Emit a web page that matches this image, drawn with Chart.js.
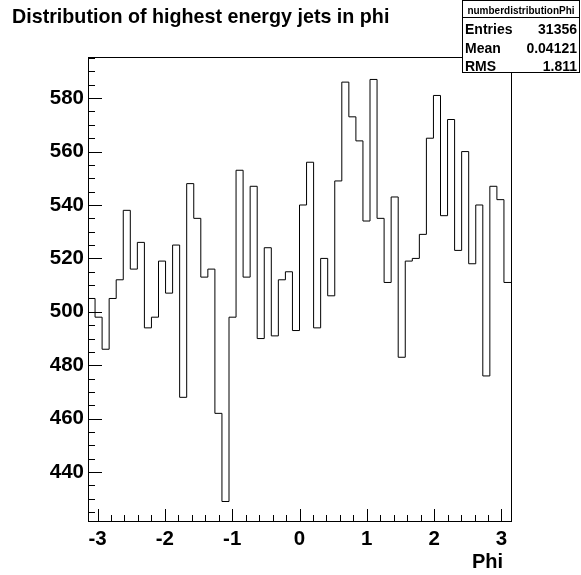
<!DOCTYPE html>
<html>
<head>
<meta charset="utf-8">
<title>Distribution of highest energy jets in phi</title>
<script src="https://cdn.jsdelivr.net/npm/chart.js@4/dist/chart.umd.min.js"></script>
<style>
  html, body { margin: 0; padding: 0; background: #ffffff; }
  #wrap { width: 581px; height: 575px; }
</style>
</head>
<body>
<div id="wrap"><canvas id="c" width="581" height="575"></canvas></div>
<script>
// Histogram contents: 60 bins of phi over [-pi, pi]
const binCounts = [
  505, 498, 486, 505, 512, 538, 516, 526, 494, 498,
  519, 507, 525, 468, 548, 535, 513, 516, 462, 429,
  498, 553, 513, 547, 490, 524, 491, 512, 515, 493,
  540, 556, 494, 520, 506, 549, 586, 573, 564, 534,
  587, 535, 511, 543, 483, 519, 520, 529, 565, 581,
  536, 572, 523, 560, 518, 540, 476, 547, 542, 511
];
const phiMin = -Math.PI;
const phiMax = Math.PI;

const xTickValues = [-3, -2, -1, 0, 1, 2, 3];
const yTickValues = [440, 460, 480, 500, 520, 540, 560, 580];

const titleText = 'Distribution of highest energy jets in phi';
const xAxisTitle = 'Phi';
const statName = 'numberdistributionPhi';
const statLabels = ['Entries', 'Mean', 'RMS'];
const statValues = ['31356', '0.04121', '1.811'];

// Step outline: one point at each lower bin edge, plus the upper edge of the last bin
const binWidth = (phiMax - phiMin) / binCounts.length;
const stepPoints = binCounts.map((v, i) => ({ x: phiMin + i * binWidth, y: v }));
stepPoints.push({ x: phiMax, y: binCounts[binCounts.length - 1] });

const FONT = '"Liberation Sans", Arial, Helvetica, sans-serif';

// Inward ticks, frame, title and statistics box
const rootStyle = {
  id: 'rootStyle',
  afterDraw(chart) {
    const ctx = chart.ctx;
    const a = chart.chartArea;
    const xs = chart.scales.x;
    const ys = chart.scales.y;
    ctx.save();
    ctx.strokeStyle = '#000';
    ctx.lineWidth = 1;

    // frame
    ctx.strokeRect(Math.round(a.left) + 0.5, Math.round(a.top) + 0.5,
                   Math.round(a.right - a.left), Math.round(a.bottom - a.top));

    // y ticks: major every 20, minor every 5
    ctx.beginPath();
    for (let v = 425; v <= 595; v += 5) {
      const py = Math.round(ys.getPixelForValue(v)) + 0.5;
      const len = (v % 20 === 0) ? 14 : 7;
      ctx.moveTo(a.left, py);
      ctx.lineTo(a.left + len, py);
    }
    // x ticks: major every 1, minor every 0.2
    for (let k = -15; k <= 15; k++) {
      const v = k * 0.2;
      const px = Math.round(xs.getPixelForValue(v)) + 0.5;
      const len = (k % 5 === 0) ? 12 : 6;
      ctx.moveTo(px, a.bottom);
      ctx.lineTo(px, a.bottom - len);
    }
    ctx.stroke();

    // title
    ctx.fillStyle = '#000';
    ctx.textBaseline = 'alphabetic';
    ctx.textAlign = 'left';
    ctx.font = 'bold 19.7px ' + FONT;
    ctx.fillText(titleText, 12, 23);

    // x axis title
    ctx.textAlign = 'right';
    ctx.font = 'bold 20px ' + FONT;
    ctx.fillText(xAxisTitle, 503, 568);

    // statistics box
    const bx = 462.5, by = 0.5, bw = 117, bh = 72;
    ctx.fillStyle = '#fff';
    ctx.fillRect(bx, by, bw, bh);
    ctx.strokeRect(bx, by, bw, bh);
    ctx.beginPath();
    ctx.moveTo(bx, 17.5);
    ctx.lineTo(bx + bw, 17.5);
    ctx.stroke();
    ctx.fillStyle = '#000';
    ctx.textAlign = 'center';
    ctx.font = 'bold 10px ' + FONT;
    ctx.fillText(statName, bx + bw / 2, 14);
    ctx.font = 'bold 14px ' + FONT;
    const rowBase = [34.3, 53.3, 71];
    statLabels.forEach((lab, i) => {
      ctx.textAlign = 'left';
      ctx.fillText(lab, 465, rowBase[i]);
      ctx.textAlign = 'right';
      ctx.fillText(statValues[i], 577, rowBase[i]);
    });
    ctx.restore();
  }
};

new Chart(document.getElementById('c'), {
  type: 'line',
  data: {
    datasets: [{
      data: stepPoints,
      stepped: 'before',
      borderColor: '#000',
      borderWidth: 1,
      pointRadius: 0,
      fill: false,
      tension: 0
    }]
  },
  options: {
    responsive: false,
    devicePixelRatio: 1,
    animation: false,
    events: [],
    layout: { padding: { left: 0, top: 57, right: 70, bottom: 0 } },
    plugins: { legend: { display: false }, title: { display: false }, tooltip: { enabled: false } },
    scales: {
      x: {
        type: 'linear',
        min: phiMin,
        max: phiMax,
        grid: { display: false, drawTicks: false },
        border: { display: false },
        afterBuildTicks: (s) => { s.ticks = xTickValues.map(v => ({ value: v })); },
        afterFit: (s) => { s.height = 54; },
        ticks: {
          autoSkip: false,
          maxRotation: 0,
          padding: 6,
          color: '#000',
          font: { family: FONT, size: 20.5, weight: 'bold' },
          callback: (v) => String(v)
        }
      },
      y: {
        type: 'linear',
        min: 421.7,
        max: 595.4,
        grid: { display: false, drawTicks: false },
        border: { display: false },
        afterBuildTicks: (s) => { s.ticks = yTickValues.map(v => ({ value: v })); },
        afterFit: (s) => { s.width = 88; },
        ticks: {
          autoSkip: false,
          padding: 4,
          color: '#000',
          font: { family: FONT, size: 20.5, weight: 'bold' },
          callback: (v) => String(v)
        }
      }
    }
  },
  plugins: [rootStyle]
});
</script>
</body>
</html>
